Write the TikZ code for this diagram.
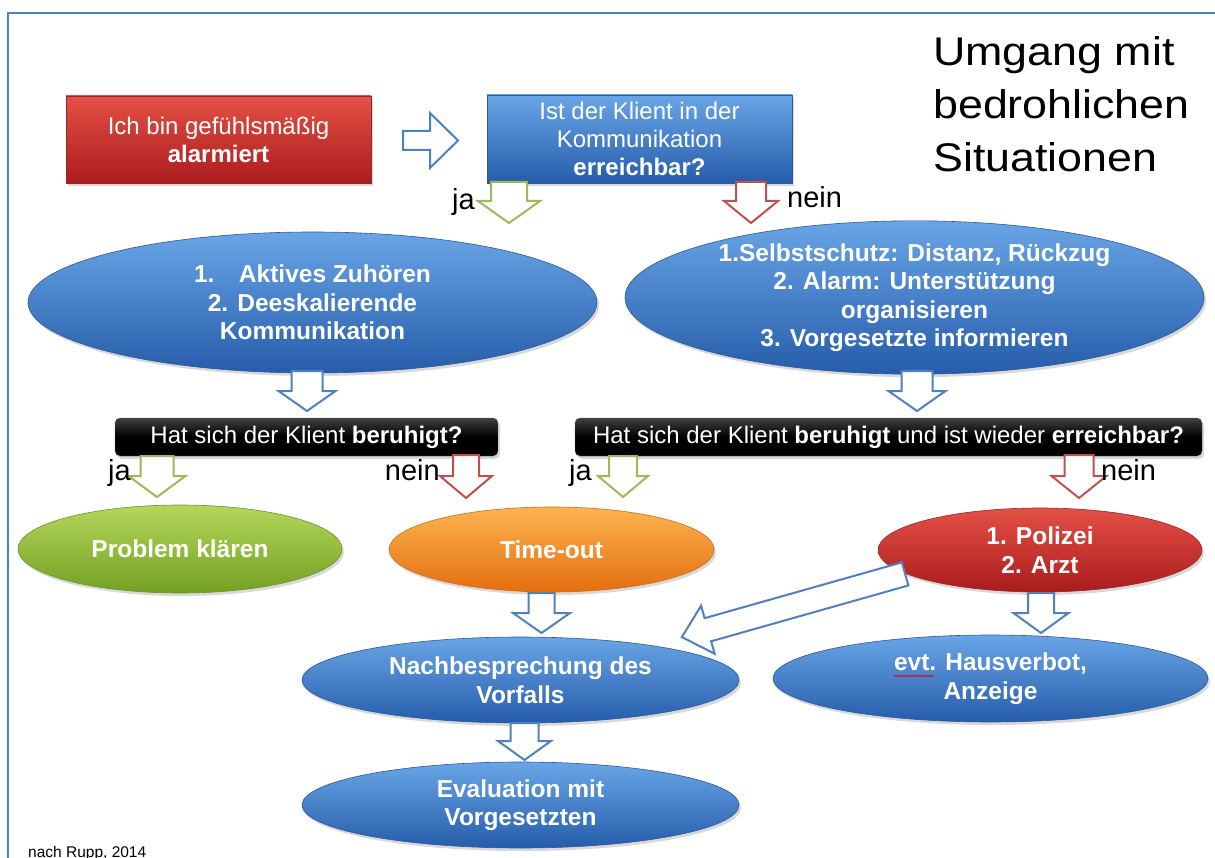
\documentclass[tikz,border=0pt]{standalone}
\usepackage{fontspec}
\setmainfont{Liberation Sans}
\newfontfamily\titlefont[FakeStretch=1.12]{Liberation Sans}
\usetikzlibrary{shapes.geometric,shadows,decorations.pathmorphing}
\definecolor{frameblue}{RGB}{79,129,189}
\definecolor{arrblue}{RGB}{79,129,189}
\definecolor{arrgreen}{RGB}{155,187,89}
\definecolor{arrred}{RGB}{192,80,77}
\definecolor{bluetop}{RGB}{105,165,230}
\definecolor{bluemid}{RGB}{60,125,205}
\definecolor{bluebot}{RGB}{38,92,170}
\definecolor{blueedge}{RGB}{45,90,150}
\definecolor{redtop}{RGB}{228,80,70}
\definecolor{redmid}{RGB}{205,45,40}
\definecolor{redbot}{RGB}{170,28,28}
\definecolor{rededge}{RGB}{150,40,40}
\definecolor{greentop}{RGB}{180,215,90}
\definecolor{greenmid}{RGB}{150,195,60}
\definecolor{greenbot}{RGB}{115,160,35}
\definecolor{greenedge}{RGB}{110,145,50}
\definecolor{orangetop}{RGB}{253,180,80}
\definecolor{orangemid}{RGB}{248,145,40}
\definecolor{orangebot}{RGB}{228,110,15}
\definecolor{orangeedge}{RGB}{200,110,30}
\tikzset{
  bodyfont/.style={font=\fontsize{24}{28}\selectfont},
  boldfont/.style={font=\bfseries\fontsize{24.5}{28.5}\selectfont},
  shade3d/.style={drop shadow={opacity=0.3,shadow xshift=2pt,shadow yshift=-3pt}},
  bluefill/.style={shading=axis,top color=bluetop,middle color=bluemid,bottom color=bluebot,draw=blueedge,line width=0.6pt},
  redfill/.style={shading=axis,top color=redtop,middle color=redmid,bottom color=redbot,draw=rededge,line width=0.6pt},
  greenfill/.style={shading=axis,top color=greentop,middle color=greenmid,bottom color=greenbot,draw=greenedge,line width=0.6pt},
  orangefill/.style={shading=axis,top color=orangetop,middle color=orangemid,bottom color=orangebot,draw=orangeedge,line width=0.6pt},
  ell/.style={ellipse,shade3d,text=white,align=center,inner sep=0pt,boldfont},
  rbox/.style={rectangle,shade3d,text=white,align=center,inner sep=0pt,bodyfont},
  bar/.style={rectangle,rounded corners=5pt,top color=black!75,bottom color=black,middle color=black,draw=black!60,
              shade3d,text=white,inner sep=0pt,minimum height=38pt,font=\fontsize{24}{26}\selectfont},
  blockarr/.style={line width=2pt,fill=white,line join=miter},
  lbl/.style={text=black,inner sep=0pt,font=\fontsize{29}{30}\selectfont}
}
% #1 colour, #2 name, #3 centre, #4 angle, #5 length, #6 shaft width, #7 head width, #8 head length
\newcommand{\blkarrow}[8]{%
  \coordinate (#2) at #3;
  \draw[blockarr,draw=#1,shift={(#2)},rotate=#4]
    ({-#5/2},{-#6/2}) -- ({#5/2-#8},{-#6/2}) -- ({#5/2-#8},{-#7/2}) -- ({#5/2},0)
    -- ({#5/2-#8},{#7/2}) -- ({#5/2-#8},{#6/2}) -- ({-#5/2},{#6/2}) -- cycle;
}
\begin{document}
\begin{tikzpicture}[x=1pt,y=-1pt]
\useasboundingbox (0,0) rectangle (1215,858);
\fill[white] (0,0) rectangle (1215,858);
\draw[frameblue,line width=2.2pt] (8,858) -- (8,13) -- (1216,13);

% title
\node[anchor=north west,align=left,inner sep=0pt,font=\titlefont\fontsize{40}{53}\selectfont] (title) at (933,36)
  {Umgang mit\\bedrohlichen\\Situationen};

% top row
\node[rbox,redfill,minimum width=305pt,minimum height=87pt] (alarm) at (218.5,139.5)
  {Ich bin gefühlsmäßig\\\textbf{alarmiert}};
\node[rbox,bluefill,minimum width=305pt,minimum height=88pt] (erreich) at (639.5,139)
  {Ist der Klient in der\\Kommunikation\\\textbf{erreichbar?}};
\blkarrow{arrblue}{a0}{(430.5,140.5)}{0}{55}{19}{55}{28}

\blkarrow{arrgreen}{a1}{(509,202.5)}{-90}{41}{36}{62}{22}
\node[lbl,anchor=base east] (ja1) at (475,210) {ja};
\blkarrow{arrred}{a2}{(751,202.5)}{-90}{41}{30}{54}{22}
\node[lbl,anchor=base west] (nein1) at (787,208) {nein};

% second row ellipses
\node[ell,bluefill,minimum width=569pt,minimum height=141pt] (aktiv) at (312.5,302.5)
  {1.\hspace{1.0em}Aktives Zuhören\\2. Deeskalierende\\Kommunikation};
\node[ell,bluefill,minimum width=579pt,minimum height=139pt] (selbst) at (914.5,297.5)
  {1.Selbstschutz: Distanz, Rückzug\\2. Alarm: Unterstützung\\organisieren\\3. Vorgesetzte informieren};

\blkarrow{arrblue}{a3}{(307,391)}{-90}{40}{31}{57}{20}
\blkarrow{arrblue}{a4}{(917,391)}{-90}{40}{31}{57}{20}

% question bars
\node[bar,minimum width=383pt] (ber1) at (306.5,437) {Hat sich der Klient \textbf{beruhigt?}};
\node[bar,minimum width=627pt] (ber2) at (888.5,437) {Hat sich der Klient \textbf{beruhigt} und ist wieder \textbf{erreichbar?}};

\blkarrow{arrgreen}{a5}{(157,476.5)}{-90}{41}{33}{57}{21}
\node[lbl,anchor=base east] (ja2) at (131,480) {ja};
\blkarrow{arrred}{a6}{(466,476.5)}{-90}{43}{26}{52}{22}
\node[lbl,anchor=base east] (nein2) at (440,480) {nein};
\blkarrow{arrgreen}{a7}{(623,476.5)}{-90}{41}{28}{50}{21}
\node[lbl,anchor=base east] (ja3) at (592,480) {ja};
\blkarrow{arrred}{a8}{(1079,476.5)}{-90}{43}{29}{55}{22}
\node[lbl,anchor=base west] (nein3) at (1101,480) {nein};

% third row
\node[ell,greenfill,minimum width=324pt,minimum height=88pt] (prob) at (180,549) {Problem klären};
\node[ell,orangefill,minimum width=325pt,minimum height=85pt] (time) at (551.5,549.5) {Time-out};
\node[ell,redfill,minimum width=324pt,minimum height=84pt] (pol) at (1040,550) {1. Polizei\\2. Arzt};

\blkarrow{arrblue}{a9}{(541.5,613)}{-90}{40}{26}{57}{20}
\blkarrow{arrblue}{a10}{(1041,613)}{-90}{40}{26}{55}{20}

% fourth row
\node[ell,bluefill,minimum width=437pt,minimum height=86pt] (nach) at (520.5,680)
  {Nachbesprechung des\\Vorfalls};
\node[ell,bluefill,minimum width=435pt,minimum height=87pt] (haus) at (990.5,678.5)
  {evt. Hausverbot,\\Anzeige};
\draw[red!85!black,line width=0.7pt,decorate,decoration={snake,amplitude=0.8pt,segment length=3pt}]
  (894,676) -- (934,676);

% diagonal arrow from Polizei to Nachbesprechung
\blkarrow{arrblue}{ad}{(793.5,605.5)}{195.8}{232}{24}{50}{27}

\blkarrow{arrblue}{a11}{(524.5,741.5)}{-90}{37}{28}{53}{19}

\node[ell,bluefill,minimum width=437pt,minimum height=86pt] (eval) at (520.5,805)
  {Evaluation mit\\Vorgesetzten};

\node[anchor=base west,inner sep=0pt,font=\fontsize{15.5}{17}\selectfont] (src) at (28,857) {nach Rupp, 2014};
\end{tikzpicture}
\end{document}
